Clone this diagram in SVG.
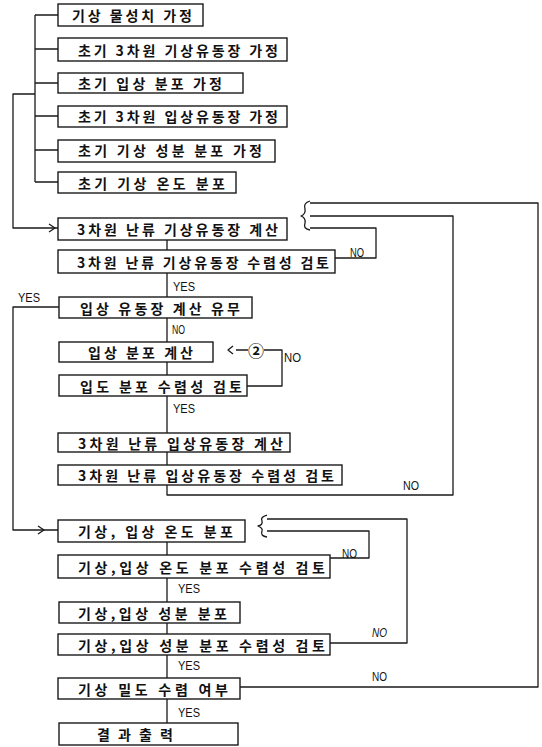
<svg xmlns="http://www.w3.org/2000/svg" width="542" height="747" viewBox="0 0 542 747">
<style>
.box{fill:#fff;stroke:#1a1a1a;stroke-width:1.4}
.t{font-family:"Noto Sans CJK KR","Noto Sans",sans-serif;font-size:14px;font-weight:700;fill:#111;dominant-baseline:central}
.c{fill:none;stroke:#1a1a1a;stroke-width:1.3;stroke-linejoin:round}
.l{font-family:"Liberation Sans","DejaVu Sans",sans-serif;font-size:12.5px;fill:#111}
</style>
<rect width="542" height="747" fill="#fff"/>
<g id="connectors">
<path class="c" d="M35 15V182M35 15H58M35 49H58M35 83H58M35 116H58M35 150H58M35 182H58"/>
<path class="c" d="M35 94H13V228H58"/>
<path class="c" d="M49 224L55 228L49 232"/>
<path class="c" d="M167 240V250M167 273V297M167 318V342M167 362V375M167 396V433M167 452V465"/>
<path class="c" d="M167 485V495H453V216H310"/>
<path class="c" d="M335 258H376V228H310"/>
<path class="c" d="M310 203H538V687H240"/>
<path class="c" d="M310 201Q303 203 305 209Q306 214 301 216Q306 218 305 223Q303 229 310 230"/>
<path class="c" d="M247 386H282V350H264M248 350H236"/>
<path class="c" d="M233 346L228 350L233 354"/>
<path class="c" d="M59 307H13V530H58"/>
<path class="c" d="M38 526L44 530L38 534"/>
<path class="c" d="M167 542V555M167 578V602M167 623V634M167 655V678M167 699V723"/>
<path class="c" d="M330 558H369V531H267"/>
<path class="c" d="M330 643H407V519H267"/>
<path class="c" d="M267 515Q260 517 262 521Q263 525 258 526Q263 528 262 531Q260 536 267 537"/>
<text class="t" x="256" y="350" text-anchor="middle" style="font-size:16px">②</text>
<text class="l" x="173" y="291" textLength="22" lengthAdjust="spacingAndGlyphs">YES</text>
<text class="l" x="18" y="302" textLength="22" lengthAdjust="spacingAndGlyphs">YES</text>
<text class="l" x="172" y="334" textLength="13" lengthAdjust="spacingAndGlyphs">NO</text>
<text class="l" x="284" y="362" textLength="17" lengthAdjust="spacingAndGlyphs">NO</text>
<text class="l" x="350" y="257" textLength="14" lengthAdjust="spacingAndGlyphs">NO</text>
<text class="l" x="173" y="413" textLength="22" lengthAdjust="spacingAndGlyphs">YES</text>
<text class="l" x="403" y="490" textLength="16" lengthAdjust="spacingAndGlyphs">NO</text>
<text class="l" x="342" y="558" textLength="15" lengthAdjust="spacingAndGlyphs">NO</text>
<text class="l" x="178" y="593" textLength="22" lengthAdjust="spacingAndGlyphs">YES</text>
<text class="l" x="372" y="637" textLength="15" lengthAdjust="spacingAndGlyphs" font-style="italic">NO</text>
<text class="l" x="178" y="670" textLength="22" lengthAdjust="spacingAndGlyphs">YES</text>
<text class="l" x="372" y="681" textLength="15" lengthAdjust="spacingAndGlyphs">NO</text>
<text class="l" x="178" y="717" textLength="22" lengthAdjust="spacingAndGlyphs">YES</text>
</g>
<g id="n1"><rect class="box" x="58" y="4" width="145" height="22"/><text class="t" x="72" y="15" textLength="120" lengthAdjust="spacing">기상 물성치 가정</text></g>
<g id="n2"><rect class="box" x="58" y="38" width="229" height="23"/><text class="t" x="78" y="50" textLength="200" lengthAdjust="spacing">초기 3차원 기상유동장 가정</text></g>
<g id="n3"><rect class="box" x="58" y="73" width="185" height="20"/><text class="t" x="78" y="83" textLength="144" lengthAdjust="spacing">초기 입상 분포 가정</text></g>
<g id="n4"><rect class="box" x="58" y="106" width="229" height="21"/><text class="t" x="78" y="116" textLength="200" lengthAdjust="spacing">초기 3차원 입상유동장 가정</text></g>
<g id="n5"><rect class="box" x="58" y="140" width="217" height="22"/><text class="t" x="78" y="150" textLength="184" lengthAdjust="spacing">초기 기상 성분 분포 가정</text></g>
<g id="n6"><rect class="box" x="58" y="172" width="178" height="21"/><text class="t" x="78" y="183" textLength="147" lengthAdjust="spacing">초기 기상 온도 분포</text></g>
<g id="nA"><rect class="box" x="58" y="218" width="229" height="22"/><text class="t" x="77" y="229" textLength="201" lengthAdjust="spacing">3차원 난류 기상유동장 계산</text></g>
<g id="nB"><rect class="box" x="58" y="250" width="277" height="23"/><text class="t" x="77" y="262" textLength="252" lengthAdjust="spacing">3차원 난류 기상유동장 수렴성 검토</text></g>
<g id="nC"><rect class="box" x="59" y="297" width="193" height="21"/><text class="t" x="80" y="308" textLength="160" lengthAdjust="spacing">입상 유동장 계산 유무</text></g>
<g id="nD"><rect class="box" x="59" y="342" width="154" height="20"/><text class="t" x="88" y="352" textLength="105" lengthAdjust="spacing">입상 분포 계산</text></g>
<g id="nE"><rect class="box" x="59" y="375" width="188" height="21"/><text class="t" x="80" y="386" textLength="162" lengthAdjust="spacing">입도 분포 수렴성 검토</text></g>
<g id="nF"><rect class="box" x="58" y="433" width="232" height="19"/><text class="t" x="78" y="443" textLength="205" lengthAdjust="spacing">3차원 난류 입상유동장 계산</text></g>
<g id="nG"><rect class="box" x="58" y="465" width="284" height="20"/><text class="t" x="78" y="475" textLength="256" lengthAdjust="spacing">3차원 난류 입상유동장 수렴성 검토</text></g>
<g id="nH"><rect class="box" x="58" y="520" width="187" height="22"/><text class="t" x="78" y="531" textLength="155" lengthAdjust="spacing">기상, 입상 온도 분포</text></g>
<g id="nI"><rect class="box" x="58" y="555" width="272" height="23"/><text class="t" x="78" y="567" textLength="247" lengthAdjust="spacing">기상,입상 온도 분포 수렴성 검토</text></g>
<g id="nJ"><rect class="box" x="59" y="602" width="181" height="21"/><text class="t" x="78" y="613" textLength="149" lengthAdjust="spacing">기상,입상 성분 분포</text></g>
<g id="nK"><rect class="box" x="58" y="634" width="272" height="21"/><text class="t" x="78" y="645" textLength="247" lengthAdjust="spacing">기상,입상 성분 분포 수렴성 검토</text></g>
<g id="nL"><rect class="box" x="58" y="678" width="182" height="21"/><text class="t" x="78" y="689" textLength="150" lengthAdjust="spacing">기상 밀도 수렴 여부</text></g>
<g id="nM"><rect class="box" x="59" y="723" width="179" height="22"/><text class="t" x="97" y="734" textLength="76" lengthAdjust="spacing">결 과 출 력</text></g>
</svg>
